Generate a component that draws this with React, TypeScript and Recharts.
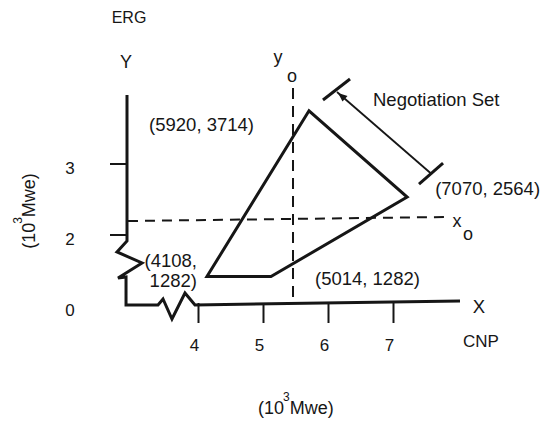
import React from 'react';
import { ScatterChart, Scatter, XAxis, YAxis, ReferenceDot } from 'recharts';

// Values in plotted axis units (10^3 MWe). The Y axis is broken below 2: the plotted value 1 stands for 0.
const vertexX = [4.13, 5.115, 7.21, 5.7];
const vertexY = [1.415, 1.415, 2.535, 3.75];
const vertexLabels = [['(4108,', '1282)'], ['(5014, 1282)'], ['(7070, 2564)'], ['(5920, 3714)']];

const xTickValues = [4, 5, 6, 7];
const xTickLabels = ['4', '5', '6', '7'];
const yTickValues = [1, 2, 3];
const yTickLabels = ['0', '2', '3'];
const yTickMarks = [false, true, true];

// axis path with the two break (zig-zag) marks
const axisX = [2.9, 2.9, 2.746, 3.131, 2.762, 2.885, 2.885, 3.377, 3.454, 3.592, 3.792, 3.946, 8.023];
const axisY = [3.972, 1.915, 1.761, 1.606, 1.394, 1.408, 1.014, 1.014, 1.099, 0.817, 1.183, 1.014, 1.07];

// reference lines y_o (vertical) and x_o (horizontal)
const yoLineX = [5.454, 5.454];
const yoLineY = [4.07, 1.085];
const xoLineX = [2.915, 7.83];
const xoLineY = [2.197, 2.254];

// "Negotiation Set" dimension bracket
const bracketX = [6.131, 7.577];
const bracketY = [4.014, 2.866];
const bracketTopBarX = [5.915, 6.331];
const bracketTopBarY = [3.901, 4.197];
const bracketBottomBarX = [7.392, 7.762];
const bracketBottomBarY = [2.718, 3.014];

const FONT = '"Liberation Sans", Arial, Helvetica, sans-serif';
const INK = '#161616';

const pts = (xs: number[], ys: number[]) => xs.map((x, i) => ({ x, y: ys[i] }));
const NoDot = () => <g />;

const polygonPts = (() => {
  const p = pts(vertexX, vertexY);
  return [...p, p[0], p[1]];
})();

const vertexLayout = [
  { dx: -10, dys: [-10, 10], anchor: 'end' },
  { dx: 44, dys: [8], anchor: 'start' },
  { dx: 28, dys: [-2.5], anchor: 'start' },
  { dx: -55, dys: [20.5], anchor: 'end' },
];

function PolyLine({ xs, ys, width, dash }: { xs: number[]; ys: number[]; width: number; dash?: string }) {
  return null;
}

export default function App() {
  const lineSeries = (key: string, xs: number[], ys: number[], width: number, dash?: string) => (
    <Scatter
      key={key}
      data={pts(xs, ys)}
      fill={INK}
      shape={NoDot}
      isAnimationActive={false}
      line={{ stroke: INK, strokeWidth: width, strokeDasharray: dash, strokeLinejoin: 'miter', strokeLinecap: 'butt' }}
    />
  );

  return (
    <div style={{ position: 'absolute', left: 0, top: 0, width: 549, height: 424, background: '#fff' }}>
      <ScatterChart width={549} height={424} margin={{ top: 57.5, right: 58, bottom: 82.5, left: 101 }}>
        <XAxis type="number" dataKey="x" domain={[2.5, 8.5]} hide />
        <YAxis type="number" dataKey="y" domain={[0.5, 4.5]} hide />
        {lineSeries('axes', axisX, axisY, 3)}
        {lineSeries('yo', yoLineX, yoLineY, 2, '11 7')}
        {lineSeries('xo', xoLineX, xoLineY, 2, '10 7')}
        <Scatter
          data={polygonPts}
          fill={INK}
          shape={NoDot}
          isAnimationActive={false}
          line={{ stroke: INK, strokeWidth: 3, strokeLinejoin: 'miter' }}
        />
        {lineSeries('bracket', bracketX, bracketY, 1.8)}
        {lineSeries('barTop', bracketTopBarX, bracketTopBarY, 3)}
        {lineSeries('barBottom', bracketBottomBarX, bracketBottomBarY, 3)}
        <ReferenceDot
          x={bracketX[0]}
          y={bracketY[0]}
          isFront
          shape={(p: any) => (
            <polygon
              points={`${p.cx + 1},${p.cy + 1} ${p.cx + 10.5},${p.cy + 4} ${p.cx + 5.5},${p.cy + 9.5}`}
              fill={INK}
            />
          )}
        />
        {xTickValues.map((v, i) => (
          <ReferenceDot
            key={'xt' + v}
            x={v}
            y={1}
            shape={(p: any) => (
              <g>
                <line x1={p.cx} x2={p.cx} y1={p.cy - 3} y2={p.cy + 17} stroke={INK} strokeWidth={2} />
                <text x={p.cx - 4} y={p.cy + 45} textAnchor="middle" fontFamily={FONT} fontSize={17} fill={INK}>
                  {xTickLabels[i]}
                </text>
              </g>
            )}
          />
        ))}
        {yTickValues.map((v, i) => (
          <ReferenceDot
            key={'yt' + v}
            x={2.9}
            y={v}
            shape={(p: any) => (
              <g>
                {yTickMarks[i] && <line x1={p.cx - 17} x2={p.cx} y1={p.cy} y2={p.cy} stroke={INK} strokeWidth={2} />}
                <text x={p.cx - 57} y={p.cy + 10} textAnchor="middle" fontFamily={FONT} fontSize={17} fill={INK}>
                  {yTickLabels[i]}
                </text>
              </g>
            )}
          />
        ))}
        {vertexLabels.map((lines, i) => (
          <ReferenceDot
            key={'vl' + i}
            x={vertexX[i]}
            y={vertexY[i]}
            shape={(p: any) => (
              <text
                textAnchor={vertexLayout[i].anchor as any}
                fontFamily={FONT}
                fontSize={18.5}
                fill={INK}
              >
                {lines.map((s, j) => (
                  <tspan key={j} x={p.cx + vertexLayout[i].dx} y={p.cy + vertexLayout[i].dys[j]}>
                    {s}
                  </tspan>
                ))}
              </text>
            )}
          />
        ))}
      </ScatterChart>
      <svg
        width={549}
        height={424}
        style={{ position: 'absolute', left: 0, top: 0, pointerEvents: 'none' }}
        fontFamily={FONT}
        fill={INK}
      >
        <text x={129} y={23} textAnchor="middle" fontSize={16}>ERG</text>
        <text x={126} y={67.5} textAnchor="middle" fontSize={18}>Y</text>
        <text x={278} y={63} textAnchor="middle" fontSize={18}>y</text>
        <text x={292} y={81.5} textAnchor="middle" fontSize={18}>o</text>
        <text x={373} y={106} fontSize={18.5}>Negotiation Set</text>
        <text x={457} y={227} textAnchor="middle" fontSize={18}>x</text>
        <text x={468} y={240} textAnchor="middle" fontSize={18}>o</text>
        <text x={479} y={313} textAnchor="middle" fontSize={18.5}>X</text>
        <text x={463} y={347} fontSize={17}>CNP</text>
        <text x={258} y={414} fontSize={18}>
          (10
          <tspan dx={-1} dy={-13} fontSize={12}>3</tspan>
          <tspan dy={13} fontSize={18}>Mwe)</tspan>
        </text>
        <text transform="translate(35,211) rotate(-90)" textAnchor="middle" fontSize={18}>
          (10
          <tspan dx={-1} dy={-13} fontSize={12}>3</tspan>
          <tspan dy={13} fontSize={18}>Mwe)</tspan>
        </text>
      </svg>
    </div>
  );
}
